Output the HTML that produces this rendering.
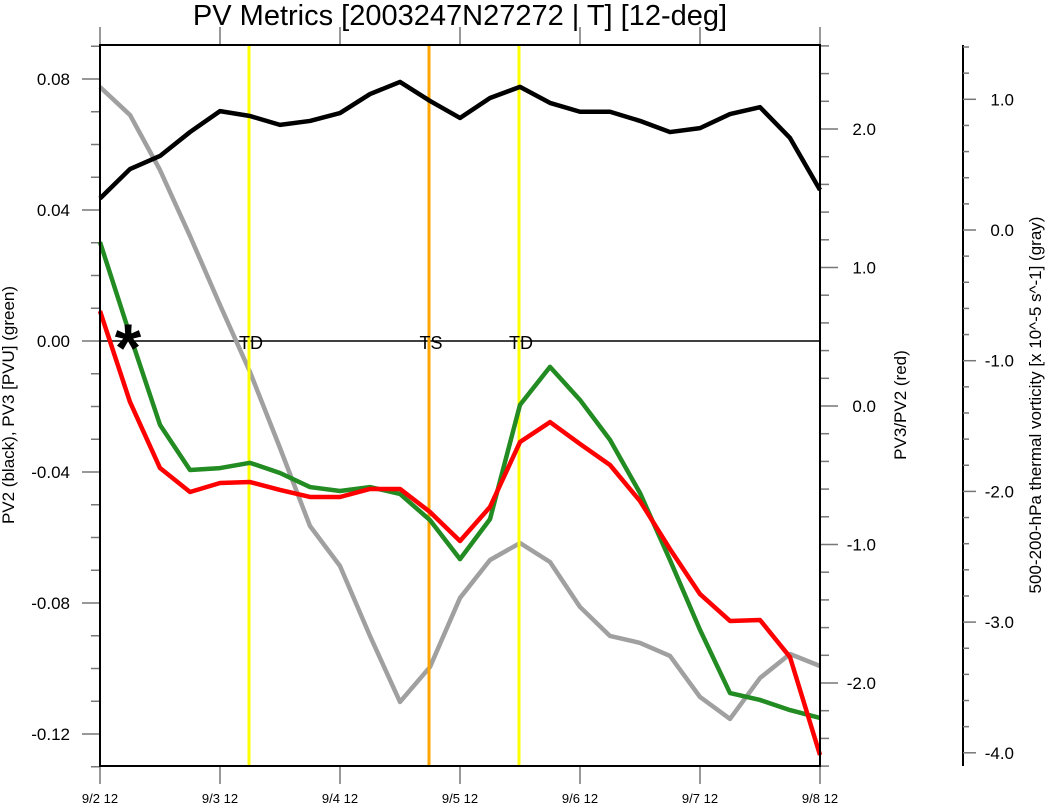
<!DOCTYPE html>
<html><head><meta charset="utf-8"><style>
body{margin:0;background:#fff;}
svg{display:block;font-family:"Liberation Sans",sans-serif;}
</style></head><body>
<svg id="c" width="1045" height="805" viewBox="0 0 1045 805">
<text x="460" y="25" font-size="29" text-anchor="middle">PV Metrics [2003247N27272 | T] [12-deg]</text>
<g id="ticks"></g>
<g id="lines"></g>
<text x="14" y="405" font-size="17" text-anchor="middle" transform="rotate(-90 14 405)">PV2 (black), PV3 [PVU] (green)</text>
<text x="906" y="405" font-size="17" text-anchor="middle" transform="rotate(-90 906 405)">PV3/PV2 (red)</text>
<text x="1041" y="405" font-size="17" text-anchor="middle" transform="rotate(-90 1041 405)">500-200-hPa thermal vorticity [x 10^-5 s^-1] (gray)</text>
</svg>
<script>
const xLabels=["9/2 12","9/3 12","9/4 12","9/5 12","9/6 12","9/7 12","9/8 12"];
const pv2=[0.0435,0.0525,0.0565,0.0638,0.0702,0.0687,0.066,0.0672,0.0696,0.0754,0.0791,0.0733,0.0681,0.0742,0.0776,0.0727,0.07,0.07,0.0672,0.0638,0.065,0.0693,0.0714,0.0620,0.0461];
const pv3=[0.0302,0.0018,-0.0256,-0.0394,-0.0388,-0.0372,-0.0403,-0.0446,-0.0458,-0.0446,-0.0467,-0.0547,-0.0666,-0.0544,-0.0195,-0.0079,-0.0180,-0.0302,-0.0464,-0.0669,-0.0882,-0.1075,-0.1096,-0.1127,-0.1151];
const ratio=[0.686,0.029,-0.448,-0.621,-0.556,-0.549,-0.606,-0.657,-0.657,-0.599,-0.599,-0.765,-0.975,-0.729,-0.260,-0.116,-0.274,-0.426,-0.686,-1.033,-1.358,-1.552,-1.545,-1.813,-2.520];
const vort=[1.094,0.880,0.459,-0.046,-0.574,-1.086,-1.668,-2.265,-2.571,-3.106,-3.611,-3.343,-2.815,-2.525,-2.395,-2.540,-2.884,-3.106,-3.159,-3.259,-3.573,-3.741,-3.428,-3.244,-3.336];
const leftTicks=[0.08,0.04,0.00,-0.04,-0.08,-0.12];
const rightTicks=[2.0,1.0,0.0,-1.0,-2.0];
const vortTicks=[1.0,0.0,-1.0,-2.0,-3.0,-4.0];
const events=[{i:5,label:"TD",color:"#ffff00"},{i:11,label:"TS",color:"#ffa500"},{i:14,label:"TD",color:"#ffff00"}];
const X0=100,X1=820,Y0=45,Y1=766;
const xs=i=>X0+i*30;
const yL=v=>341-v*3275;
const yR=v=>406-v*138.5;
const yV=v=>230-v*130.7;
const NS="http://www.w3.org/2000/svg";
const svg=document.getElementById('c'),T=document.getElementById('ticks'),L=document.getElementById('lines');
function mk(t,a,p){const e=document.createElementNS(NS,t);for(const k in a)e.setAttribute(k,a[k]);(p||svg).appendChild(e);return e;}
function ln(x1,y1,x2,y2,c,w,p){return mk('line',{x1,y1,x2,y2,stroke:c,'stroke-width':w},p);}
for(let v=0.09;v>=-0.13;v-=0.01){const y=yL(v);if(y<Y0-1||y>Y1+1)continue;const maj=Math.abs(Math.round(v*100)%4)==0;const t=ln(X0-(maj?18:9),y,X0,y,'#777',1.5,T);}
leftTicks.forEach(v=>{const t=mk('text',{x:X0-30,y:yL(v)+6,'font-size':17,'text-anchor':'end'},T);t.textContent=v.toFixed(2);
});
for(let k=-13;k<=13;k++){const v=k*0.2;const y=yR(v);if(y<Y0-1||y>Y1+1)continue;const maj=k%5==0;const t=ln(X1,y,X1+(maj?18:9),y,'#777',1.5,T);}
rightTicks.forEach(v=>{const t=mk('text',{x:X1+56,y:yR(v)+6,'font-size':17,'text-anchor':'end'},T);t.textContent=v.toFixed(1);
});
const ax=ln(963,Y0,963,Y1,'#000',2,T);
for(let k=-21;k<=7;k++){const v=k*0.2;const y=yV(v);if(y<Y0-1||y>Y1+1)continue;const maj=k%5==0;const t=ln(963,y,963+(maj?13:6),y,'#777',1.5,T);}
vortTicks.forEach(v=>{const t=mk('text',{x:1014,y:yV(v)+6,'font-size':17,'text-anchor':'end'},T);t.textContent=v.toFixed(1);
});
xLabels.forEach((s,i)=>{const x=X0+i*120;ln(x,Y1,x,Y1+18,'#777',1.5,T);ln(x,Y0,x,Y0-18,'#777',1.5,T);
const t=mk('text',{x:x,y:803,'font-size':13,'text-anchor':'middle'},T);t.textContent=s;
});
const z=ln(X0,yL(0),X1,yL(0),'#000',1.5,L);
function series(arr,fy,c,name){const p=mk('polyline',{points:arr.map((v,i)=>xs(i)+','+fy(v)).join(' '),fill:'none',stroke:c,'stroke-width':4.5,'stroke-linejoin':'round'},L);
}
series(vort,yV,'#a0a0a0','vorticity-line');
events.forEach(e=>{const x=xs(e.i)-1;const l=ln(x,Y0,x,Y1,e.color,3,L);});
series(pv2,yL,'#000','pv2-line');
series(pv3,yL,'#228b22','pv3-line');
series(ratio,yR,'#ff0000','ratio-line');
events.forEach(e=>{const t=mk('text',{x:xs(e.i)+1,y:yL(0)+8,'font-size':18,'text-anchor':'middle'},L);t.textContent=e.label;
});
const st=mk('text',{x:128,y:yL(0)+30,'font-size':68,'font-weight':'bold','text-anchor':'middle'},L);st.textContent='*';

const fr=mk('rect',{x:X0,y:Y0,width:X1-X0,height:Y1-Y0,fill:'none',stroke:'#000','stroke-width':2},L);

</script>
</body></html>
